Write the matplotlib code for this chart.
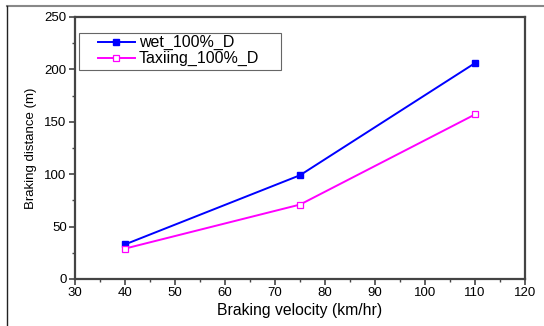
import matplotlib.pyplot as plt
from matplotlib.lines import Line2D
from matplotlib.patches import Rectangle
from matplotlib.ticker import MultipleLocator

# -----------------------------------
# Data
# -----------------------------------

velocity = [40, 75, 110]
wet_distance = [33, 99, 206]
taxiing_distance = [29, 71, 157]

plt.rcParams["font.family"] = ["Liberation Sans", "DejaVu Sans"]

# -----------------------------------
# Figure
# -----------------------------------

fig = plt.figure(figsize=(5.44, 3.26), dpi=100)
ax = fig.add_axes([0.1379, 0.1442, 0.8272, 0.8037])

# outer frame (top and left edge only)
fig.add_artist(Line2D([7/544, 1], [1 - 6/326, 1 - 6/326], color="#888888", lw=1.5))
fig.add_artist(Line2D([7/544, 7/544], [0, 1 - 6/326], color="#222222", lw=1.0))

ax.plot(
    velocity,
    wet_distance,
    color="#0000ff",
    marker="s",
    markersize=5,
    lw=1.4,
    label="wet_100%_D"
)

ax.plot(
    velocity,
    taxiing_distance,
    color="#ff00ff",
    marker="s",
    markersize=5,
    markerfacecolor="white",
    markeredgewidth=0.9,
    lw=1.4,
    label="Taxiing_100%_D"
)

ax.set_xlim(30, 120)
ax.set_ylim(0, 250)
ax.xaxis.set_major_locator(MultipleLocator(10))
ax.xaxis.set_minor_locator(MultipleLocator(5))
ax.yaxis.set_major_locator(MultipleLocator(50))
ax.yaxis.set_minor_locator(MultipleLocator(25))

for s in ax.spines.values():
    s.set_color("#444444")
    s.set_linewidth(1.6)

ax.tick_params(which="major", direction="out", length=4, width=1.2,
               color="#444444", labelsize=9.5, pad=2)
ax.tick_params(which="minor", direction="out", length=2.5, width=1.0,
               color="#444444")

ax.set_xlabel("Braking velocity (km/hr)", fontsize=11.3, labelpad=3)
ax.set_ylabel("Braking distance (m)", fontsize=9.5, labelpad=5)

# -----------------------------------
# Legend (box drawn separately, it is wider than the entries)
# -----------------------------------

ax.add_patch(Rectangle(
    (0.009, 0.798), 0.449, 0.141,
    transform=ax.transAxes,
    facecolor="white",
    edgecolor="#666666",
    lw=0.8,
    zorder=4
))

leg = ax.legend(
    loc="upper left",
    bbox_to_anchor=(0.051, 0.93),
    fontsize=11.5,
    frameon=False,
    borderaxespad=0,
    borderpad=0,
    handlelength=2.3,
    handletextpad=0.25,
    labelspacing=0.05,
    markerscale=0.8
)
leg.set_zorder(5)

plt.savefig("out.png", dpi=100)
